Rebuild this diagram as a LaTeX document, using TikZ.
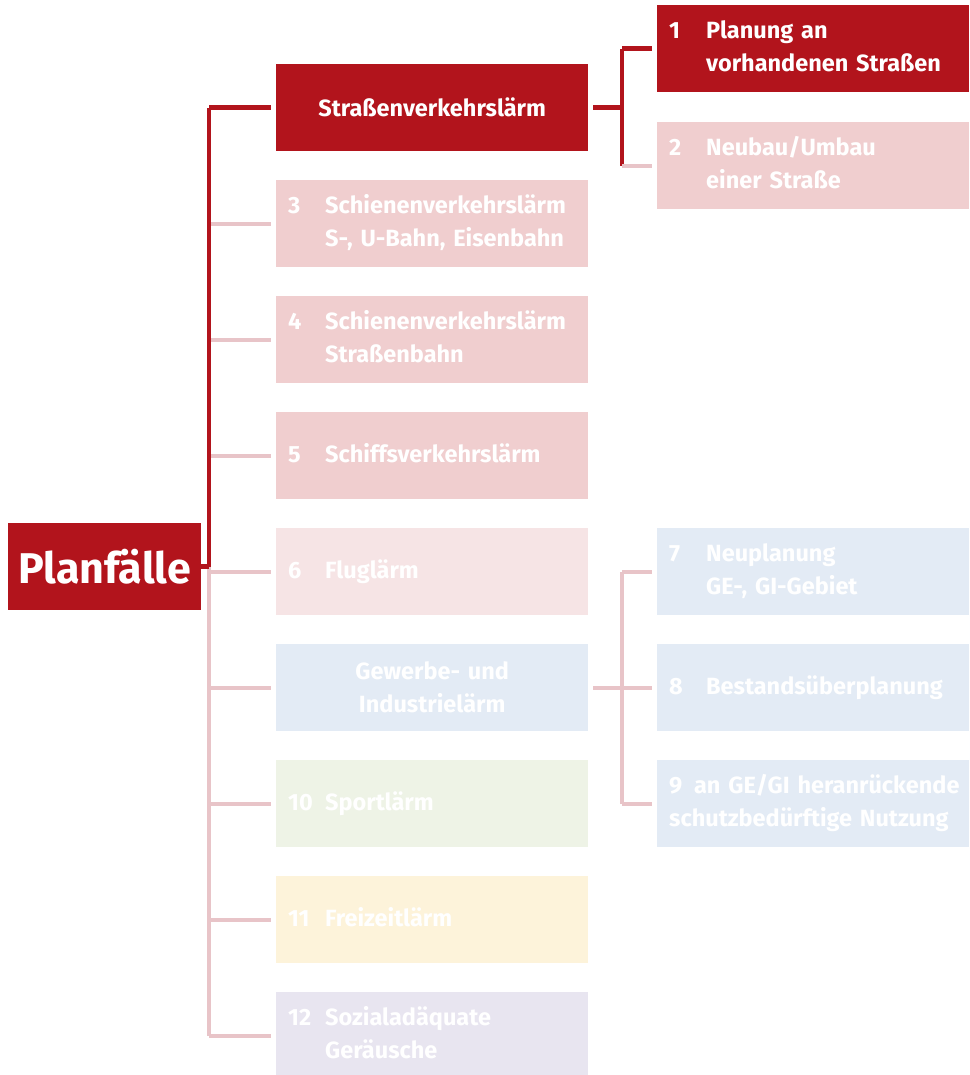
\documentclass[tikz,border=0pt]{standalone}
\usepackage{fontspec}
\setmainfont{Fira Sans}
\usepackage{array}
\definecolor{dred}{RGB}{178,20,28}
\definecolor{pinkbox}{RGB}{240,206,207}
\definecolor{pinklight}{RGB}{246,228,229}
\definecolor{bluebox}{RGB}{227,235,245}
\definecolor{greenbox}{RGB}{238,243,230}
\definecolor{yellowbox}{RGB}{253,243,218}
\definecolor{lavbox}{RGB}{232,229,240}
\definecolor{pinkline}{RGB}{232,196,200}
\newcommand{\numtext}[3]{\begin{tabular}{@{}p{37pt}@{}l@{}}#1 & #2\\ & #3\end{tabular}}
\newcommand{\numone}[2]{\begin{tabular}{@{}p{37pt}@{}l@{}}#1 & #2\end{tabular}}
\begin{document}
\begin{tikzpicture}[x=1pt,y=-1pt,
  box/.style={rectangle, minimum width=312pt, minimum height=87pt, inner xsep=12pt, inner ysep=0pt,
    text width=288pt, align=left, font=\fontsize{23.5}{33}\selectfont\bfseries, text=white, anchor=north west},
  cbox/.style={box, align=center},
  darkln/.style={draw=dred, line width=4.5pt},
  pinkln/.style={draw=pinkline, line width=4pt},
  tobox/.style={shorten >=5pt},
  frombox/.style={shorten <=5pt}]
\useasboundingbox (0,0) rectangle (969,1075);
% root
\node[rectangle, fill=dred, minimum width=193pt, minimum height=87pt, anchor=north west, inner sep=0pt,
  text=white, font=\fontsize{43}{43}\selectfont\bfseries] (pf) at (8,523) {Planfälle};
% first level
\node[cbox, fill=dred] (s) at (276,64) {Straßenverkehrslärm};
\node[box, fill=pinkbox] (b3) at (276,180) {\numtext{3}{Schienenverkehrslärm}{S-, U-Bahn, Eisenbahn}};
\node[box, fill=pinkbox] (b4) at (276,296) {\numtext{4}{Schienenverkehrslärm}{Straßenbahn}};
\node[box, fill=pinkbox] (b5) at (276,412) {\numone{5}{Schiffsverkehrslärm}};
\node[box, fill=pinklight] (b6) at (276,528) {\numone{6}{Fluglärm}};
\node[cbox, fill=bluebox] (g) at (276,644) {Gewerbe- und\\Industrielärm};
\node[box, fill=greenbox] (b10) at (276,760) {\numone{10}{Sportlärm}};
\node[box, fill=yellowbox] (b11) at (276,876) {\numone{11}{Freizeitlärm}};
\node[box, fill=lavbox] (b12) at (276,992) {\numtext{12}{Sozialadäquate}{Geräusche}};
% second level
\node[box, fill=dred] (b1) at (657,5) {\numtext{1}{Planung an}{vorhandenen Straßen}};
\node[box, fill=pinkbox] (b2) at (657,122) {\numtext{2}{Neubau/Umbau}{einer Straße}};
\node[box, fill=bluebox] (b7) at (657,528) {\numtext{7}{Neuplanung}{GE-, GI-Gebiet}};
\node[box, fill=bluebox] (b8) at (657,644) {\numone{8}{Bestandsüberplanung}};
\node[box, fill=bluebox] (b9) at (657,760) {\begin{tabular}{@{}l@{}}9\enspace an GE/GI heranrückende\\schutzbedürftige Nutzung\end{tabular}};
% junction columns
\coordinate (tx) at (209,0);
\coordinate (rx) at (622,0);
% trunk
\draw[pinkln] (pf.east -| tx) -- (b12.west -| tx);
\foreach \n in {b3,b4,b5,b6,g,b10,b11,b12}{
  \draw[pinkln, tobox] (\n.west -| tx) -- (\n.west);
}
\draw[darkln] (pf.east) -- (pf.east -| tx);
\draw[darkln] (pf.east -| tx) -- (s.west -| tx);
\draw[darkln, tobox] (s.west -| tx) -- (s.west);
% Strassenverkehr branch
\draw[darkln, frombox] (s.east) -- (s.east -| rx);
\draw[darkln] (b1.west -| rx) -- (b2.west -| rx);
\draw[darkln, tobox] (b1.west -| rx) -- (b1.west);
\draw[pinkln, tobox] (b2.west -| rx) -- (b2.west);
% Gewerbe branch
\draw[pinkln, frombox] (g.east) -- (g.east -| rx);
\draw[pinkln] (b7.west -| rx) -- (b9.west -| rx);
\foreach \n in {b7,b8,b9}{
  \draw[pinkln, tobox] (\n.west -| rx) -- (\n.west);
}
\end{tikzpicture}
\end{document}
